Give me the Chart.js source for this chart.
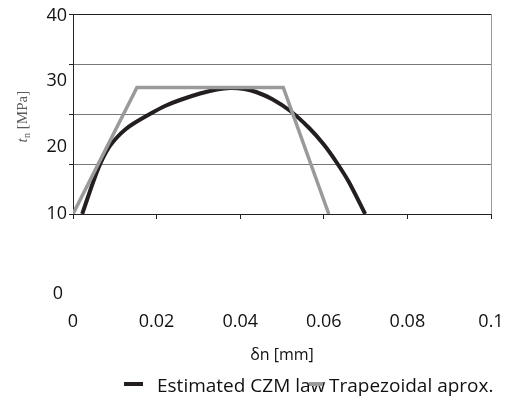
<!DOCTYPE html>
<html><head><meta charset="utf-8">
<script src="https://cdn.jsdelivr.net/npm/chart.js@4"></script>
<style>html,body{margin:0;padding:0;background:#fff}#wrap{width:512px;height:405px;position:relative}</style>
</head><body><div id="wrap"><canvas id="c" width="512" height="405" style="width:512px;height:405px"></canvas></div>
<script>
// ---- data ----
const czmDelta = [0.0022,0.0035,0.0050,0.0065,0.0085,0.0105,0.0125,0.0145,0.0184,0.0220,0.0256,0.0304,0.0344,0.0376,0.0410,0.0438,0.0476,0.0520,0.0565,0.0600,0.0630,0.0660,0.0699];
const czmTraction = [0,3.2,6.8,10.0,13.2,15.3,16.9,18.1,20.0,21.6,22.8,24.1,24.9,25.2,25.0,24.4,23.0,20.6,17.2,13.9,10.4,6.4,0];
const trapDelta = [0,0.0153,0.0503,0.0612];
const trapTraction = [0,25.3,25.3,0];
const seriesNames = ['Estimated CZM law','Trapezoidal aprox.'];
const xTickLabels = ['0','0.02','0.04','0.06','0.08','0.1'];
const yTickValues = [0,10,20,30,40];
const yTickLabels = ['0','10','20','30','40'];

// ---- layout of the (misplaced) y labels as in the reference ----
const yLabelCenter = [294,214,147,81,16];
const yLabelRight = [63,67,67,67,67];

const FONT = '"Open Sans"';
const toPts = (xs, ys) => xs.map((x, i) => ({x, y: ys[i]}));

const yLabelsPlugin = {
  id: 'yLabels',
  afterDraw(chart) {
    const ctx = chart.ctx;
    ctx.save();
    ctx.font = '18px ' + FONT;
    ctx.fillStyle = '#111';
    ctx.textAlign = 'right';
    ctx.textBaseline = 'middle';
    yTickLabels.forEach((t, i) => ctx.fillText(t, yLabelRight[i], yLabelCenter[i]));
    ctx.translate(22, 117);
    ctx.rotate(-Math.PI / 2);
    ctx.fillStyle = '#595959';
    ctx.textAlign = 'left';
    ctx.textBaseline = 'alphabetic';
    const f1 = 'italic 15px "Liberation Serif"', f2 = '10px "Liberation Serif"', f3 = '15px "Liberation Serif"';
    ctx.font = f1; const w1 = ctx.measureText('t').width;
    ctx.font = f2; const w2 = ctx.measureText('n').width;
    ctx.font = f3; const w3 = ctx.measureText(' [MPa]').width;
    let x = -(w1 + w2 + w3) / 2;
    ctx.font = f1; ctx.fillText('t', x, 5); x += w1 + 0.5;
    ctx.font = f2; ctx.fillText('n', x, 8); x += w2;
    ctx.font = f3; ctx.fillText(' [MPa]', x, 5);
    ctx.restore();
  }
};

const legendPlugin = {
  id: 'customLegend',
  afterDraw(chart) {
    const ctx = chart.ctx;
    const ds = chart.data.datasets;
    ctx.save();
    ctx.font = '19px ' + FONT;
    ctx.textBaseline = 'middle';
    ctx.fillStyle = '#111';
    ctx.fillText(ds[0].label, 157, 387);
    ctx.fillText(ds[1].label, 329, 387);
    ctx.lineWidth = 4;
    ctx.strokeStyle = ds[0].borderColor;
    ctx.beginPath(); ctx.moveTo(124, 384); ctx.lineTo(143, 384); ctx.stroke();
    ctx.strokeStyle = ds[1].borderColor;
    ctx.beginPath(); ctx.moveTo(309, 384); ctx.lineTo(323, 384); ctx.stroke();
    ctx.restore();
  }
};

function build() {
  new Chart(document.getElementById('c'), {
    type: 'scatter',
    data: {
      datasets: [
        {label: seriesNames[0], data: toPts(czmDelta, czmTraction), showLine: true, borderColor: '#231f20', borderWidth: 4, pointRadius: 0, tension: 0.3, order: 2},
        {label: seriesNames[1], data: toPts(trapDelta, trapTraction), showLine: true, borderColor: '#9a9a9a', borderWidth: 3.5, pointRadius: 0, tension: 0, order: 1}
      ]
    },
    options: {
      responsive: false,
      maintainAspectRatio: false,
      animation: false,
      devicePixelRatio: 1,
      layout: {padding: {top: 14, right: 21, left: 0, bottom: 0}},
      plugins: {legend: {display: false}, tooltip: {enabled: false}},
      scales: {
        x: {
          type: 'linear', min: 0, max: 0.1,
          afterBuildTicks: s => { s.ticks = xTickLabels.map((_, i) => ({value: i * 0.02})); },
          ticks: {callback: (v, i) => xTickLabels[i], font: {family: FONT, size: 18}, color: '#111', padding: 92, maxRotation: 0, autoSkip: false},
          grid: {color: c => (c.index === xTickLabels.length - 1 ? '#9a9a9a' : 'rgba(0,0,0,0)'), tickColor: '#222', tickLength: 5, lineWidth: 1},
          border: {color: '#222', width: 1},
          title: {display: true, text: 'δn [mm]', font: {family: FONT, size: 16}, color: '#111', padding: {top: 0, bottom: 40}},
          afterFit: s => { s.height = 191; s.paddingLeft = 0; s.paddingRight = 0; }
        },
        y: {
          type: 'linear', min: 0, max: 40,
          afterBuildTicks: s => { s.ticks = yTickValues.map(v => ({value: v})); },
          ticks: {display: false},
          grid: {color: c => (c.tick && c.tick.value === 40 ? '#222' : '#777'), tickColor: '#222', tickLength: 4, lineWidth: 1},
          border: {color: '#222', width: 1},
          afterFit: s => { s.width = 73; s.paddingTop = 0; s.paddingBottom = 0; }
        }
      }
    },
    plugins: [yLabelsPlugin, legendPlugin]
  });
}
Promise.all([
  document.fonts.load('18px "Open Sans"'), document.fonts.load('16px "Open Sans"'),
  document.fonts.load('15px "Liberation Serif"'), document.fonts.load('italic 15px "Liberation Serif"')
]).then(build, build);
</script></body></html>
